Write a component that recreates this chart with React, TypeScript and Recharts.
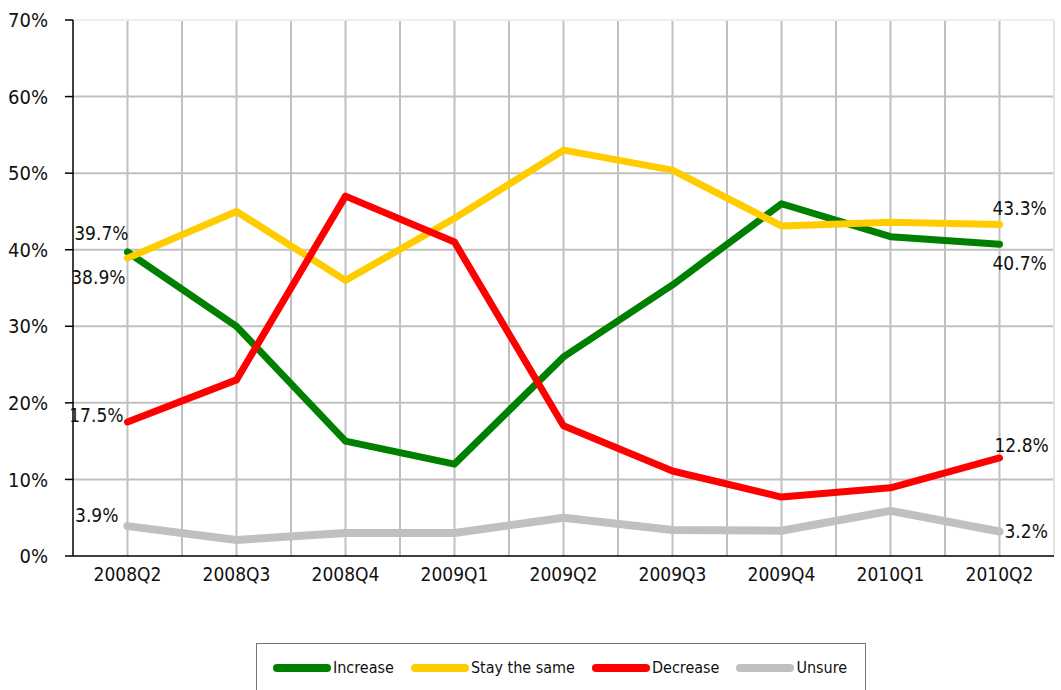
import React from "react"
import {
  LineChart,
  Line,
  XAxis,
  YAxis,
  CartesianGrid,
  Legend,
  LabelList,
  ReferenceLine,
} from "recharts"

const quarters = ["2008Q2", "2008Q3", "2008Q4", "2009Q1", "2009Q2", "2009Q3", "2009Q4", "2010Q1", "2010Q2"]
const increase = [39.7, 30.0, 15.0, 12.0, 26.0, 35.4, 46.0, 41.7, 40.7]
const stayTheSame = [38.9, 45.0, 36.0, 44.1, 53.0, 50.4, 43.1, 43.6, 43.3]
const decrease = [17.5, 23.0, 47.0, 41.0, 17.0, 11.1, 7.7, 8.9, 12.8]
const unsure = [3.9, 2.1, 3.0, 3.0, 5.0, 3.4, 3.3, 5.9, 3.2]
const yTicks = [0, 10, 20, 30, 40, 50, 60, 70]

const FONT = "'DejaVu Sans Condensed', 'DejaVu Sans', sans-serif"
const textStyle = { fontStretch: "condensed" as const }

const data = quarters.map((q, i) => ({
  idx: i,
  quarter: q,
  increase: increase[i],
  stay: stayTheSame[i],
  decrease: decrease[i],
  unsure: unsure[i],
}))

const series = [
  { key: "increase", name: "Increase", color: "#008000", width: 7,
    first: { dx: 1, dy: -12, anchor: "end" }, last: { dx: -7, dy: 26, anchor: "start" } },
  { key: "stay", name: "Stay the same", color: "#ffcc00", width: 7,
    first: { dx: -2, dy: 26, anchor: "end" }, last: { dx: -7, dy: -9, anchor: "start" } },
  { key: "decrease", name: "Decrease", color: "#ff0000", width: 7,
    first: { dx: -4, dy: 0, anchor: "end" }, last: { dx: -5, dy: -6, anchor: "start" } },
  { key: "unsure", name: "Unsure", color: "#c0c0c0", width: 8,
    first: { dx: -9, dy: -4, anchor: "end" }, last: { dx: 5, dy: 7, anchor: "start" } },
]

const lastIndex = quarters.length - 1

function EndLabel(props: any, s: any) {
  const { x, y, value, index } = props
  if (index !== 0 && index !== lastIndex) return null
  const p = index === 0 ? s.first : s.last
  return (
    <text x={x + p.dx} y={y + p.dy} textAnchor={p.anchor} fontSize={19} fill="#111" fontFamily={FONT} style={textStyle}>
      {Number(value).toFixed(1)}%
    </text>
  )
}

function LegendBox() {
  return (
    <div
      style={{
        border: "1px solid #777",
        height: 60,
        boxSizing: "border-box",
        display: "flex",
        alignItems: "flex-start",
        paddingTop: 13,
        paddingLeft: 16,
        fontFamily: FONT,
        fontStretch: "condensed",
        fontSize: 16,
        color: "#111",
        whiteSpace: "nowrap",
      }}
    >
      {series.map((s) => (
        <div key={s.key} style={{ display: "flex", alignItems: "center", marginRight: 17 }}>
          <span style={{ display: "inline-block", width: 58, height: 8, borderRadius: 4, background: s.color, marginRight: 2 }} />
          <span style={{ lineHeight: "22px" }}>{s.name}</span>
        </div>
      ))}
    </div>
  )
}

export default function App() {
  return (
    <div style={{ position: "absolute", left: 0, top: 0, width: 1061, height: 690, overflow: "hidden", background: "#fff" }}>
      <LineChart width={1061} height={690} data={data} margin={{ top: 20, right: 7, bottom: 30, left: 0 }}>
        <CartesianGrid
          stroke="#c0c0c0"
          strokeWidth={2}
          horizontalCoordinatesGenerator={({ offset }: any) =>
            yTicks.filter((t) => t > 0 && t < 70).map((t) => offset.top + offset.height * (1 - t / 70))
          }
          verticalCoordinatesGenerator={({ offset }: any) =>
            Array.from({ length: 17 }, (_, k) => offset.left + (offset.width * (k + 1)) / 18)
          }
        />
        <ReferenceLine y={70} stroke="#eeeeee" strokeWidth={2} />
        <ReferenceLine x={8.5} stroke="#e4e4e4" strokeWidth={2} />
        <XAxis
          dataKey="idx"
          type="number"
          domain={[-0.5, 8.5]}
          ticks={quarters.map((_, i) => i)}
          tickFormatter={(v: number) => quarters[v]}
          interval={0}
          height={44}
          tickLine={false}
          tickSize={0}
          tickMargin={12}
          axisLine={{ stroke: "#000", strokeWidth: 1.5 }}
          tick={{ fontSize: 19, fill: "#111", fontFamily: FONT, style: textStyle }}
        />
        <YAxis
          domain={[0, 70]}
          ticks={yTicks}
          tickFormatter={(v: number) => `${v}%`}
          width={73}
          tickSize={8}
          tickMargin={17}
          axisLine={{ stroke: "#000", strokeWidth: 1.5 }}
          tickLine={{ stroke: "#000", strokeWidth: 1.5 }}
          tick={{ fontSize: 20, fill: "#111", fontFamily: FONT, style: textStyle }}
        />
        <Legend
          verticalAlign="bottom"
          content={() => <LegendBox />}
          wrapperStyle={{ left: 256, width: 610, bottom: -13 }}
        />
        {series.map((s) => (
          <Line
            key={s.key}
            dataKey={s.key}
            name={s.name}
            stroke={s.color}
            strokeWidth={s.width}
            strokeLinejoin="round"
            strokeLinecap="round"
            dot={false}
            activeDot={false}
            isAnimationActive={false}
          >
            <LabelList dataKey={s.key} content={(p: any) => EndLabel(p, s)} />
          </Line>
        ))}
      </LineChart>
    </div>
  )
}
